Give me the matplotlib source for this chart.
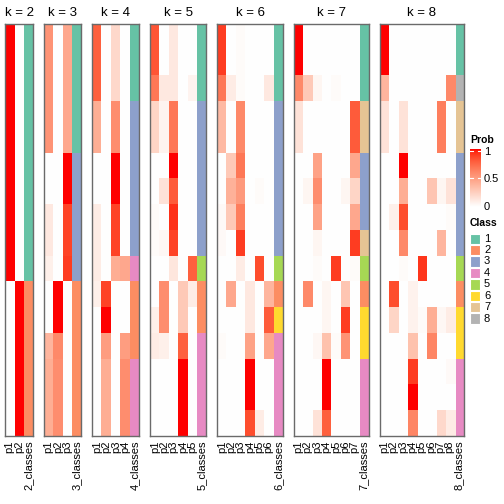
"""Membership heatmaps of consensus partitions for k = 2..8, plus Prob / Class legends."""

import numpy as np
import matplotlib

matplotlib.use("Agg")
import matplotlib.pyplot as plt  # noqa: E402
from matplotlib.colors import LinearSegmentedColormap, to_rgba  # noqa: E402
from matplotlib.patches import Rectangle  # noqa: E402

plt.rcParams["font.family"] = ["Liberation Sans", "DejaVu Sans"]

# ---- data (16 samples, top to bottom) ---------------------------------------------------
ks = [2, 3, 4, 5, 6, 7, 8]
class_labels = ["1", "2", "3", "4", "5", "6", "7", "8"]
class_colors = ["#66C2A5", "#FC8D62", "#8DA0CB", "#E78AC3",
                "#A6D854", "#FFD92F", "#E5C494", "#B3B3B3"]

prob_k2 = [[1, 0]] * 10 + [[0, 1]] * 6
class_k2 = [1] * 10 + [2] * 6

prob_k3 = ([[0.55, 0, 0.45]] * 5 + [[0, 0, 1]] * 2 + [[0.12, 0, 0.88]] * 2
           + [[0.08, 0, 0.9]] + [[0, 1, 0]] * 2 + [[0.38, 0.6, 0]] + [[0.42, 0.58, 0]] * 3)
class_k3 = [1] * 5 + [3] * 5 + [2] * 6

prob_k4 = ([[0.78, 0, 0.2, 0]] * 3 + [[0.42, 0, 0.58, 0]] * 2 + [[0, 0, 1, 0]] * 2
           + [[0.1, 0, 0.88, 0]] * 2 + [[0.1, 0, 0.42, 0.45]] + [[0.08, 0.88, 0, 0]]
           + [[0, 1, 0, 0]] + [[0, 0.5, 0, 0.5]] + [[0, 0.42, 0, 0.58]] * 3)
class_k4 = [1] * 3 + [3] * 6 + [4] + [2] * 3 + [4] * 3

prob_k5 = ([[0.82, 0, 0.12, 0, 0]] * 2 + [[0.68, 0.12, 0.12, 0, 0.06]]
           + [[0.22, 0.06, 0.68, 0, 0]] * 2 + [[0, 0, 1, 0, 0]] + [[0, 0.15, 0.8, 0, 0]]
           + [[0.02, 0, 0.93, 0, 0]] + [[0.02, 0.04, 0.88, 0, 0]] + [[0, 0, 0.13, 0, 0.78]]
           + [[0, 0.58, 0, 0.28, 0.1]] + [[0.08, 0.58, 0, 0.28, 0]]
           + [[0.1, 0.08, 0, 0.78, 0]] + [[0, 0, 0, 1, 0]] * 3)
class_k5 = [1] * 3 + [3] * 6 + [5] + [2] * 2 + [4] * 4

prob_k6 = ([[0.9, 0, 0.02, 0, 0, 0]] * 2 + [[0.68, 0.1, 0.02, 0, 0, 0.12]]
           + [[0.36, 0, 0.6, 0, 0, 0]] * 2 + [[0, 0.28, 0.68, 0, 0, 0]]
           + [[0, 0.4, 0.52, 0, 0.02, 0]] + [[0.03, 0.28, 0.65, 0, 0, 0]]
           + [[0.03, 0, 0.9, 0, 0, 0]] + [[0, 0, 0.1, 0, 0.85, 0]]
           + [[0, 0.45, 0, 0.12, 0, 0.38]] + [[0, 0, 0, 0.12, 0, 0.8]]
           + [[0.02, 0, 0, 0.48, 0, 0.45]] + [[0, 0, 0, 1, 0, 0]] * 2
           + [[0, 0, 0, 0.85, 0.1, 0]])
class_k6 = [1] * 3 + [3] * 6 + [5] + [2] + [6] + [4] * 4

prob_k7 = ([[1, 0, 0, 0, 0, 0, 0]] * 2 + [[0.6, 0.28, 0.05, 0, 0.02, 0, 0]]
           + [[0.15, 0, 0, 0, 0, 0, 0.8]] * 2 + [[0, 0, 0.48, 0, 0, 0, 0.45]]
           + [[0, 0.05, 0.58, 0, 0, 0.05, 0.22]] + [[0, 0, 0.48, 0, 0, 0, 0.45]]
           + [[0, 0, 0.05, 0, 0, 0, 0.9]] + [[0, 0, 0.02, 0, 0.9, 0, 0.02]]
           + [[0, 0.6, 0, 0.05, 0, 0.3, 0]] + [[0, 0, 0, 0.05, 0, 0.9, 0]]
           + [[0, 0, 0.04, 0.32, 0.02, 0.55, 0]] + [[0, 0, 0, 1, 0, 0, 0]] * 2
           + [[0, 0, 0.15, 0.78, 0, 0, 0]])
class_k7 = [1] * 3 + [7] * 2 + [3] * 3 + [7] + [5] + [2] + [6] * 2 + [4] * 3

prob_k8 = ([[1, 0, 0, 0, 0, 0, 0, 0]] * 2 + [[0.38, 0, 0, 0, 0, 0, 0, 0.6]]
           + [[0.15, 0, 0.15, 0, 0, 0, 0.65, 0]] * 2 + [[0, 0, 1, 0, 0, 0, 0, 0]]
           + [[0, 0, 0.42, 0, 0, 0.3, 0.05, 0.15]] + [[0, 0.08, 0.85, 0, 0, 0, 0, 0.02]]
           + [[0, 0, 0.6, 0, 0, 0, 0.38, 0]] + [[0, 0, 0.02, 0, 0.92, 0, 0, 0]]
           + [[0, 0.85, 0, 0.07, 0, 0, 0, 0]] + [[0, 0.22, 0, 0.07, 0.02, 0.42, 0.04, 0.1]]
           + [[0, 0, 0, 0.32, 0, 0.62, 0, 0]] + [[0, 0, 0, 0.9, 0, 0, 0, 0.03]]
           + [[0, 0, 0, 1, 0, 0, 0, 0]] + [[0, 0, 0, 0.62, 0, 0, 0.2, 0.1]])
class_k8 = [1] * 2 + [8] + [7] * 2 + [3] * 4 + [5] + [2] + [6] * 2 + [4] * 3

probs = [prob_k2, prob_k3, prob_k4, prob_k5, prob_k6, prob_k7, prob_k8]
classes = [class_k2, class_k3, class_k4, class_k5, class_k6, class_k7, class_k8]

# ---- white -> red ramp interpolated in LAB ------------------------------------------------
_M = np.array([[0.4124, 0.3576, 0.1805], [0.2126, 0.7152, 0.0722], [0.0193, 0.1192, 0.9505]])
_WHITE = np.array([0.95047, 1.0, 1.08883])


def _to_lab(rgb):
    rgb = np.asarray(rgb, float)
    lin = np.where(rgb <= 0.04045, rgb / 12.92, ((rgb + 0.055) / 1.055) ** 2.4)
    xyz = lin @ _M.T / _WHITE
    f = np.where(xyz > 0.008856, np.cbrt(xyz), 7.787 * xyz + 16 / 116)
    return np.array([116 * f[1] - 16, 500 * (f[0] - f[1]), 200 * (f[1] - f[2])])


def _from_lab(lab):
    fy = (lab[:, 0] + 16) / 116
    f = np.stack([fy + lab[:, 1] / 500, fy, fy - lab[:, 2] / 200], axis=-1)
    xyz = np.where(f ** 3 > 0.008856, f ** 3, (f - 16 / 116) / 7.787) * _WHITE
    lin = np.clip(xyz @ np.linalg.inv(_M).T, 0, 1)
    return np.where(lin <= 0.0031308, 12.92 * lin, 1.055 * lin ** (1 / 2.4) - 0.055)


t = np.linspace(0, 1, 256)[:, None]
lab = (1 - t) * _to_lab([1, 1, 1]) + t * _to_lab([1, 0, 0])
prob_cmap = LinearSegmentedColormap.from_list("prob", _from_lab(lab))

# ---- layout (pixels) ------------------------------------------------------------------
W = H = 504
TOP, BOT = 24, 436
CW, GAP, X0 = 9.35, 11, 5
BORDER = "#6a6a6a"

fig = plt.figure(figsize=(W / 100, H / 100), dpi=100)

x = X0
for k, p, cl in zip(ks, probs, classes):
    p = np.asarray(p, float)
    n = len(cl)
    img = np.zeros((n, k + 1, 4))
    img[:, :k] = prob_cmap(p)
    img[:, k] = [to_rgba(class_colors[c - 1]) for c in cl]
    w = (k + 1) * CW
    ax = fig.add_axes([x / W, 1 - BOT / H, w / W, (BOT - TOP) / H])
    ax.imshow(img, aspect="auto", interpolation="nearest")
    ax.set_yticks([])
    ax.set_xticks(range(k + 1))
    ax.set_xticklabels([f"p{i + 1}" for i in range(k)] + [f"{k}_classes"],
                       rotation=90, fontsize=8)
    ax.tick_params(axis="x", length=0, pad=3)
    for s in ax.spines.values():
        s.set_color(BORDER)
        s.set_linewidth(1)
    ax.set_title(f"k = {k}", fontsize=9.5, pad=6)
    x += w + GAP

# ---- legends ----------------------------------------------------------------------------
cax = fig.add_axes([470 / W, 1 - 207 / H, 11 / W, 58 / H])
cax.imshow(np.linspace(1, 0, 100)[:, None], cmap=prob_cmap, aspect="auto",
           extent=(0, 1, 0, 1), vmin=0, vmax=1)
for v in (0.5, 1.0):
    cax.plot([0, 0.25], [v * 0.95 + 0.02] * 2, color="white", lw=0.8)
    cax.plot([0.75, 1], [v * 0.95 + 0.02] * 2, color="white", lw=0.8)
cax.set_xlim(0, 1)
cax.set_ylim(0, 1)
cax.axis("off")

lg = fig.add_axes([0, 0, 1, 1])
lg.set_xlim(0, W)
lg.set_ylim(H, 0)
lg.axis("off")
lg.text(470, 140, "Prob", fontsize=7.5, fontweight="bold", va="center", ha="left")
for v, lab_txt in zip((1, 0.5, 0), ("1", "0.5", "0")):
    lg.text(484, 206.5 - v * 54.5, lab_txt, fontsize=8, va="center", ha="left")

lg.text(470, 223, "Class", fontsize=7.5, fontweight="bold", va="center", ha="left")
for i, (lab_txt, col) in enumerate(zip(class_labels, class_colors)):
    yc = 238.7 + i * 11.4
    lg.add_patch(Rectangle((470, yc - 5.2), 10.4, 10.4, facecolor=col,
                           edgecolor="white", lw=0.8))
    lg.text(484, yc, lab_txt, fontsize=8, va="center", ha="left")

fig.savefig("out.png", dpi=100)
